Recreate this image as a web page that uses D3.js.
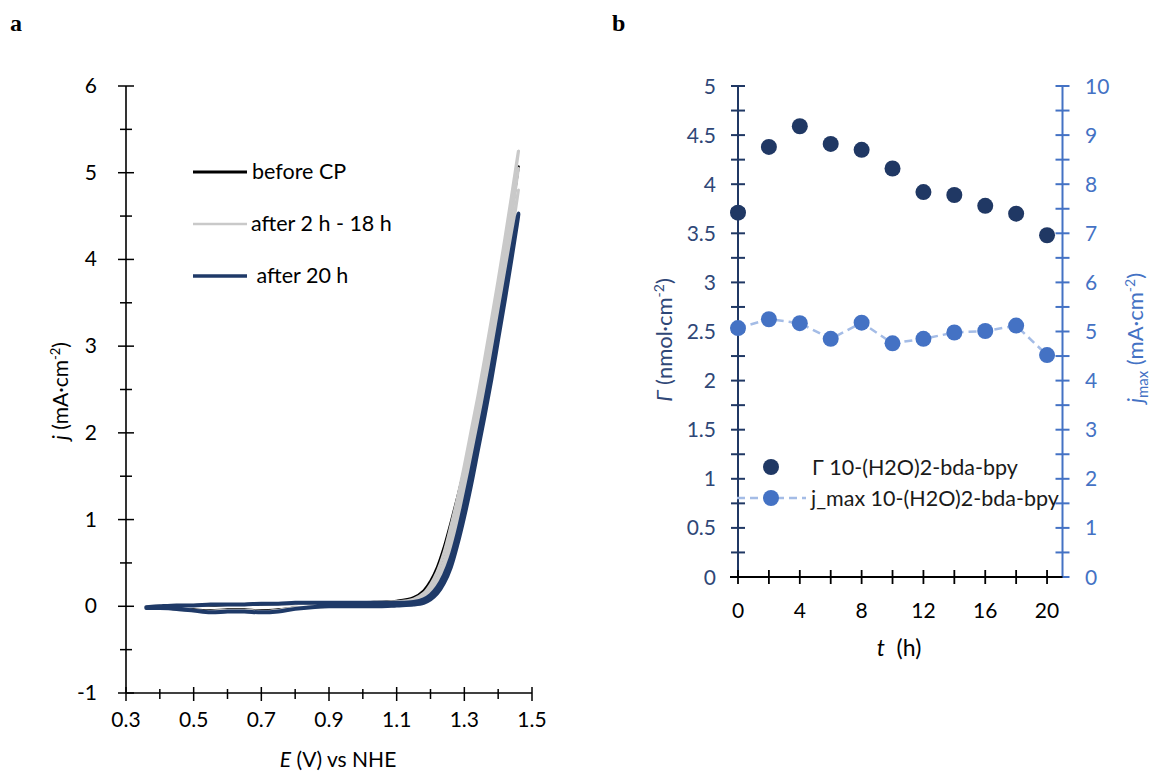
<!DOCTYPE html>
<html><head><meta charset="utf-8">
<script src="https://cdn.jsdelivr.net/npm/d3@7"></script>
<style>
html,body{margin:0;padding:0;background:#fff;}
svg text{font-family:Lato,"Open Sans","Noto Sans",sans-serif;}
</style></head>
<body><svg id="chart" width="1153" height="778"></svg>
<script>
// ---------- Panel a data (cyclic voltammograms) ----------
const cvE = [0.36,0.40,0.45,0.50,0.55,0.60,0.65,0.70,0.75,0.80,0.85,0.90,0.95,1.00,1.05,1.10,1.15,1.18,1.20,1.22,1.24,1.26,1.28,1.30,1.32,1.34,1.36,1.38,1.40,1.42,1.44,1.46];
const beforeFwd = [-0.01,0.00,0.01,0.01,0.01,0.02,0.02,0.02,0.03,0.03,0.04,0.04,0.04,0.04,0.05,0.06,0.10,0.18,0.29,0.45,0.68,0.96,1.26,1.58,1.96,2.36,2.78,3.20,3.65,4.10,4.58,5.07];
const beforeRev = [-0.02,-0.02,-0.03,-0.04,-0.05,-0.04,-0.04,-0.05,-0.04,-0.02,-0.01,0.00,0.00,0.00,0.01,0.02,0.05,0.11,0.19,0.33,0.53,0.80,1.12,1.48,1.88,2.28,2.68,3.12,3.58,4.05,4.55,5.07];
const grey2hFwd = [-0.01,0.00,0.01,0.01,0.02,0.02,0.02,0.03,0.03,0.03,0.04,0.04,0.04,0.04,0.05,0.05,0.08,0.15,0.25,0.40,0.62,0.92,1.25,1.62,2.02,2.42,2.85,3.30,3.76,4.24,4.74,5.25];
const grey2hRev = [-0.02,-0.02,-0.03,-0.05,-0.06,-0.05,-0.05,-0.06,-0.05,-0.02,-0.01,0.00,0.00,0.00,0.00,0.01,0.04,0.09,0.16,0.29,0.48,0.76,1.10,1.48,1.88,2.30,2.74,3.20,3.68,4.18,4.70,5.25];
const grey8hFwd = [-0.01,0.00,0.01,0.01,0.02,0.02,0.02,0.03,0.03,0.03,0.04,0.04,0.04,0.04,0.04,0.05,0.06,0.12,0.20,0.33,0.52,0.80,1.12,1.48,1.86,2.26,2.68,3.12,3.58,4.05,4.55,5.05];
const grey8hRev = [-0.02,-0.02,-0.03,-0.05,-0.06,-0.05,-0.05,-0.06,-0.05,-0.02,-0.01,0.00,0.00,0.00,0.00,0.01,0.03,0.07,0.13,0.24,0.40,0.66,0.98,1.34,1.74,2.15,2.58,3.03,3.50,3.98,4.50,5.05];
const grey14hFwd = [-0.01,0.00,0.01,0.01,0.02,0.02,0.02,0.03,0.03,0.03,0.04,0.04,0.04,0.04,0.04,0.04,0.05,0.10,0.17,0.28,0.45,0.70,1.00,1.36,1.74,2.14,2.55,2.98,3.42,3.88,4.34,4.80];
const grey14hRev = [-0.02,-0.02,-0.03,-0.05,-0.06,-0.05,-0.05,-0.06,-0.05,-0.02,-0.01,0.00,0.00,0.00,0.00,0.01,0.03,0.06,0.11,0.20,0.35,0.58,0.88,1.22,1.60,2.02,2.44,2.88,3.33,3.80,4.28,4.80];
const after20Fwd = [-0.01,0.00,0.01,0.01,0.02,0.02,0.02,0.03,0.03,0.04,0.04,0.04,0.04,0.04,0.04,0.04,0.05,0.08,0.13,0.22,0.36,0.56,0.84,1.18,1.55,1.94,2.33,2.75,3.20,3.65,4.10,4.53];
const after20Rev = [-0.02,-0.02,-0.03,-0.05,-0.07,-0.06,-0.06,-0.07,-0.06,-0.03,-0.01,0.00,0.00,0.00,0.00,0.01,0.02,0.04,0.08,0.15,0.27,0.45,0.72,1.04,1.40,1.80,2.20,2.62,3.08,3.54,4.02,4.53];
const legendA = ["before CP","after 2 h - 18 h"," after 20 h"];
const xTicksA = [0.3,0.5,0.7,0.9,1.1,1.3,1.5];
const yTicksA = [-1,0,1,2,3,4,5,6];

// ---------- Panel b data ----------
const tHours = [0,2,4,6,8,10,12,14,16,18,20];
const gammaVals = [3.71,4.38,4.59,4.41,4.35,4.16,3.92,3.89,3.78,3.70,3.48];
const jmaxVals = [5.07,5.25,5.17,4.85,5.18,4.76,4.85,4.98,5.01,5.12,4.52];
const xTicksB = [0,4,8,12,16,20];
const yTicksBL = [0,0.5,1,1.5,2,2.5,3,3.5,4,4.5,5];
const yTicksBR = [0,1,2,3,4,5,6,7,8,9,10];
const legendB = ["Γ 10-(H2O)2-bda-bpy","j_max 10-(H2O)2-bda-bpy"];

const svg = d3.select("#chart");
const NAVY = "#1F3A68", GREY = "#C9C9C9";
const TICKFS = "21px";

svg.append("text").attr("x",10).attr("y",31).text("a")
  .style("font-family","'Liberation Serif','DejaVu Serif',serif").style("font-weight","bold").style("font-size","24px");
svg.append("text").attr("x",612).attr("y",31).text("b")
  .style("font-family","'Liberation Serif','DejaVu Serif',serif").style("font-weight","bold").style("font-size","24px");

// ================= Panel a =================
const xA = d3.scaleLinear().domain([0.3,1.5]).range([126,532]);
const yA = d3.scaleLinear().domain([-1,6]).range([693,86]);
const gA = svg.append("g");

gA.append("line").attr("x1",xA(0.3)).attr("x2",xA(1.5)).attr("y1",yA(-1)).attr("y2",yA(-1)).attr("stroke","#000").attr("stroke-width",1.6);
gA.append("line").attr("x1",xA(0.3)).attr("x2",xA(0.3)).attr("y1",yA(-1)).attr("y2",yA(6)).attr("stroke","#000").attr("stroke-width",1.6);
const xMinorA = d3.range(3,16).map(d=>d/10);
xMinorA.forEach(v=>{
  const major = xTicksA.some(t=>Math.abs(t-v)<1e-6);
  gA.append("line").attr("x1",xA(v)).attr("x2",xA(v))
    .attr("y1",yA(-1)-(major?6:4)).attr("y2",yA(-1)+(major?8:6)).attr("stroke","#000").attr("stroke-width",1.5);
});
const yMinorA = d3.range(-2,13).map(d=>d/2);
yMinorA.forEach(v=>{
  const major = Number.isInteger(v);
  gA.append("line").attr("y1",yA(v)).attr("y2",yA(v))
    .attr("x1",xA(0.3)-(major?8:6)).attr("x2",xA(0.3)+(major?8:6)).attr("stroke","#000").attr("stroke-width",1.5);
});
xTicksA.forEach(v=>{
  gA.append("text").attr("x",xA(v)).attr("y",727).attr("text-anchor","middle")
    .style("font-size",TICKFS).attr("fill","#000").text(v.toFixed(1));
});
yTicksA.forEach(v=>{
  gA.append("text").attr("x",97).attr("y",yA(v)+7).attr("text-anchor","end")
    .style("font-size",TICKFS).attr("fill","#000").text(v);
});
const xtA = gA.append("text").attr("x",338).attr("y",767).attr("text-anchor","middle").style("font-size","21px");
xtA.append("tspan").style("font-style","italic").text("E");
xtA.append("tspan").text(" (V) vs NHE");
const ytA = gA.append("text").attr("transform","translate(68,391) rotate(-90)").attr("text-anchor","middle").style("font-size","21px");
ytA.append("tspan").style("font-style","italic").text("j");
ytA.append("tspan").text(" (mA·cm");
ytA.append("tspan").attr("dy",-8).style("font-size","13px").text("-2");
ytA.append("tspan").attr("dy",8).text(")");

const lineA = d3.line().x(d=>xA(d[0])).y(d=>yA(d[1])).curve(d3.curveCatmullRom.alpha(0.5));
function loop(fwd, rev){
  const f = cvE.map((e,i)=>[e,fwd[i]]);
  const r = cvE.map((e,i)=>[e,rev[i]]).reverse();
  return f.concat(r.slice(1));
}
const curves = [
  {fwd:beforeFwd, rev:beforeRev, color:"#000", w:2.8},
  {fwd:grey14hFwd, rev:grey14hRev, color:GREY, w:3},
  {fwd:grey8hFwd, rev:grey8hRev, color:GREY, w:3},
  {fwd:grey2hFwd, rev:grey2hRev, color:GREY, w:3.2},
  {fwd:after20Fwd, rev:after20Rev, color:NAVY, w:4}
];
curves.forEach(c=>{
  gA.append("path").attr("d",lineA(loop(c.fwd,c.rev))).attr("fill","none")
    .attr("stroke",c.color).attr("stroke-width",c.w).attr("stroke-linejoin","round").attr("stroke-linecap","round");
});
const legA = [{c:"#000",w:3,y:172,x:252},{c:GREY,w:2.5,y:224,x:251},{c:NAVY,w:3.5,y:276,x:251}];
legA.forEach((l,i)=>{
  gA.append("line").attr("x1",193).attr("x2",247).attr("y1",l.y).attr("y2",l.y).attr("stroke",l.c).attr("stroke-width",l.w);
  gA.append("text").attr("x",l.x).attr("y",l.y+7).style("font-size","21.5px").attr("fill","#000").attr("xml:space","preserve").text(legendA[i]);
});

// ================= Panel b =================
const xB = d3.scaleLinear().domain([0,21]).range([738,1062.5]);
const yBL = d3.scaleLinear().domain([0,5]).range([577,86]);
const yBR = d3.scaleLinear().domain([0,10]).range([577,86]);
const gB = svg.append("g");
const LNAVY = "#203864", LBLUE = "#4472C4", LABL = "#2F4777";

gB.append("line").attr("x1",xB(0)).attr("x2",xB(0)).attr("y1",yBL(0)).attr("y2",yBL(5)).attr("stroke",LNAVY).attr("stroke-width",2);
d3.range(0,21).map(d=>d/4).forEach(v=>{
  gB.append("line").attr("y1",yBL(v)).attr("y2",yBL(v)).attr("x1",xB(0)-7).attr("x2",xB(0)+7).attr("stroke",LNAVY).attr("stroke-width",2);
});
yTicksBL.forEach(v=>{
  gB.append("text").attr("x",716).attr("y",yBL(v)+7.5).attr("text-anchor","end").style("font-size",TICKFS).attr("fill",LABL).text(v);
});
gB.append("line").attr("x1",xB(21)).attr("x2",xB(21)).attr("y1",yBR(0)).attr("y2",yBR(10)).attr("stroke",LBLUE).attr("stroke-width",2);
d3.range(0,21).map(d=>d/2).forEach(v=>{
  gB.append("line").attr("y1",yBR(v)).attr("y2",yBR(v)).attr("x1",xB(21)-7).attr("x2",xB(21)+7).attr("stroke",LBLUE).attr("stroke-width",2);
});
yTicksBR.forEach(v=>{
  gB.append("text").attr("x",1085).attr("y",yBR(v)+7.5).attr("text-anchor","start").style("font-size",TICKFS).attr("fill",LBLUE).text(v);
});
gB.append("line").attr("x1",xB(0)-8).attr("x2",xB(21)).attr("y1",yBL(0)).attr("y2",yBL(0)).attr("stroke","#000").attr("stroke-width",1.8);
d3.range(0,21,2).forEach(v=>{
  gB.append("line").attr("x1",xB(v)).attr("x2",xB(v)).attr("y1",yBL(0)-7).attr("y2",yBL(0)+7).attr("stroke","#000").attr("stroke-width",1.8);
});
xTicksB.forEach(v=>{
  gB.append("text").attr("x",xB(v)).attr("y",618).attr("text-anchor","middle").style("font-size",TICKFS).attr("fill","#000").text(v);
});
const xtB = gB.append("text").attr("x",899).attr("y",656).attr("text-anchor","middle").style("font-size","23px");
xtB.append("tspan").style("font-style","italic").text("t");
xtB.append("tspan").attr("xml:space","preserve").text("  (h)");
const ytBL = gB.append("text").attr("transform","translate(672,340) rotate(-90)").attr("text-anchor","middle").style("font-size","22px").attr("fill",LABL);
ytBL.append("tspan").style("font-style","italic").text("Γ");
ytBL.append("tspan").text(" (nmol·cm");
ytBL.append("tspan").attr("dy",-8).style("font-size","14px").text("-2");
ytBL.append("tspan").attr("dy",8).text(")");
const ytBR = gB.append("text").attr("transform","translate(1143,338) rotate(-90)").attr("text-anchor","middle").style("font-size","22px").attr("fill",LBLUE);
ytBR.append("tspan").style("font-style","italic").text("j");
ytBR.append("tspan").attr("dy",5).style("font-size","15px").text("max");
ytBR.append("tspan").attr("dy",-5).text(" (mA·cm");
ytBR.append("tspan").attr("dy",-8).style("font-size","14px").text("-2");
ytBR.append("tspan").attr("dy",8).text(")");

const lineB = d3.line().x((d,i)=>xB(tHours[i])).y(d=>yBR(d));
gB.append("path").attr("d",lineB(jmaxVals)).attr("fill","none").attr("stroke","#A4BCE6")
  .attr("stroke-width",2.5).attr("stroke-dasharray","8,5");
gB.selectAll("circle.g").data(gammaVals).enter().append("circle")
  .attr("cx",(d,i)=>xB(tHours[i])).attr("cy",d=>yBL(d)).attr("r",8).attr("fill",LNAVY);
gB.selectAll("circle.j").data(jmaxVals).enter().append("circle")
  .attr("cx",(d,i)=>xB(tHours[i])).attr("cy",d=>yBR(d)).attr("r",8).attr("fill",LBLUE);

gB.append("circle").attr("cx",771).attr("cy",467).attr("r",8).attr("fill",LNAVY);
gB.append("text").attr("x",812).attr("y",474.5).style("font-size","21.5px").attr("fill","#1a1a1a").text(legendB[0]);
gB.append("line").attr("x1",737).attr("x2",806).attr("y1",498).attr("y2",498).attr("stroke","#A4BCE6").attr("stroke-width",2.5).attr("stroke-dasharray","8,5");
gB.append("circle").attr("cx",771).attr("cy",498).attr("r",8).attr("fill",LBLUE);
gB.append("text").attr("x",811).attr("y",505.5).style("font-size","21.5px").attr("fill","#1a1a1a").text(legendB[1]);
</script>
</body></html>
